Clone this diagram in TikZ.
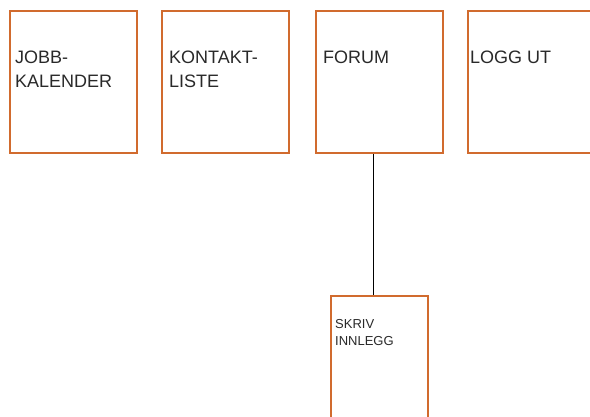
\documentclass[tikz,border=0pt]{standalone}
\usepackage{fontspec}
\setmainfont{Liberation Sans}
\usetikzlibrary{calc}
\definecolor{BoxClr}{rgb}{0.82,0.42,0.18}
\definecolor{TextClr}{rgb}{0.16,0.16,0.16}

\begin{document}
\begin{tikzpicture}[x=1pt,y=-1pt,
  side/.style={draw=BoxClr,line width=1.6pt,minimum width=127pt,minimum height=142pt,anchor=north west,inner sep=0pt},
  subside/.style={side,minimum width=97pt,minimum height=140pt},
  caption/.style={anchor=base west,inner sep=0pt,align=left,text=TextClr,font=\fontsize{18}{24}\selectfont},
  subcaption/.style={caption,font=\fontsize{13}{17}\selectfont},
  link/.style={line width=0.7pt,black}]
\useasboundingbox (0,0) rectangle (590,417);

% top row of pages
\node[side] (jobb) at (9,10) {};
\node[side] (kontakt) at (161,10) {};
\node[side] (forum) at (315,10) {};
\node[side] (logg) at (467,10) {};

% page below forum
\node[subside] (skriv) at (330,295) {};

% base of a two-line caption is its last line
\node[caption] (jobbtxt) at ($(jobb.north west)+(6,78)$) {JOBB-\\KALENDER};
\node[caption] (kontakttxt) at ($(kontakt.north west)+(8,78)$) {KONTAKT-\\LISTE};
\node[caption] (forumtxt) at ($(forum.north west)+(8,54)$) {FORUM};
\node[caption] (loggtxt) at ($(logg.north west)+(3,54)$) {LOGG UT};
\node[subcaption] (skrivtxt) at ($(skriv.north west)+(5,50)$) {SKRIV\\INNLEGG};

\draw[link] ([xshift=-6pt]skriv.north) -- ([xshift=-6pt]skriv.north |- forum.south);

\end{tikzpicture}
\end{document}
